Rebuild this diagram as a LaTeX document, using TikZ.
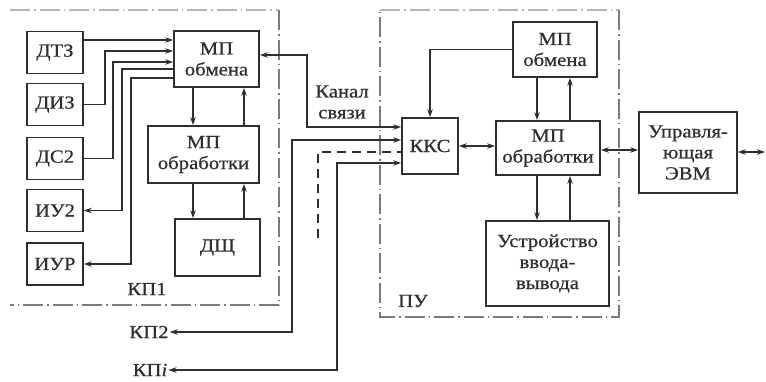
\documentclass[tikz,border=0pt]{standalone}
\usepackage{fontspec}
\setmainfont[FakeStretch=1.12,FakeBold=0.6]{Liberation Serif}
\usetikzlibrary{arrows.meta}
\definecolor{lc}{HTML}{2E2E2E}
\definecolor{bc}{HTML}{7A7A7A}
\begin{document}
\begin{tikzpicture}[x=1pt,y=-1pt,
  >={Stealth[length=8pt,width=5.5pt]},
  every node/.style={font=\fontsize{18.5}{21}\selectfont, text=lc},
  blk/.style={draw=lc, line width=1.7pt, inner sep=1pt, align=center},
  conn/.style={draw=lc, line width=1.6pt},
  bnd/.style={draw=bc, line width=1.1pt, dash pattern=on 20pt off 4pt on 1.5pt off 4pt},
  lbl/.style={inner sep=1pt, align=center}]
\fill[white] (0,0) rectangle (766,381);
\useasboundingbox (0,0) rectangle (766,381);

% boundaries
\draw[bnd, draw=bc!55] (10,10) -- (279,10);
\draw[bnd] (279,10) -- (279,305) -- (10,305);
\draw[bnd, draw=bc!55] (380,10) -- (619,10);
\draw[bnd] (619,10) -- (619,317) -- (380,317) -- (380,10);

% left blocks
\node[blk, minimum width=56pt, minimum height=42pt] (dtz) at (55,52.5) {ДТЗ};
\node[blk, minimum width=56pt, minimum height=42pt] (diz) at (55,104.5) {ДИЗ};
\node[blk, minimum width=56pt, minimum height=42pt] (ds2) at (55,158.5) {ДС2};
\node[blk, minimum width=56pt, minimum height=42pt] (iu2) at (55,210.5) {ИУ2};
\node[blk, minimum width=56pt, minimum height=42pt] (iur) at (55,264) {ИУР};
\node[blk, minimum width=85pt, minimum height=56pt] (mpo1) at (216.5,59) {МП\\обмена};
\node[blk, minimum width=111pt, minimum height=57pt] (mpp1) at (203.5,154.5) {МП\\обработки};
\node[blk, minimum width=85pt, minimum height=57pt] (dsh) at (217.5,247.5) {ДЩ};

% right blocks
\node[blk, minimum width=56pt, minimum height=56pt] (kks) at (430,146) {ККС};
\node[blk, minimum width=84pt, minimum height=55pt] (mpo2) at (555,49.5) {МП\\обмена};
\node[blk, minimum width=104pt, minimum height=54pt] (mpp2) at (548,148) {МП\\обработки};
\node[blk, minimum width=123pt, minimum height=85pt] (uvv) at (547.5,263.5) {Устройство\\ввода-\\вывода};
\node[blk, minimum width=98pt, minimum height=81pt] (evm) at (688,152.5) {Управля-\\ющая\\ЭВМ};

% labels
\node[lbl] (kanal) at (342,102) {Канал\\связи};
\node[lbl] (kp1) at (147,289) {КП1};
\node[lbl] (kp2) at (149,332) {КП2};
\node[lbl] (kpi) at (150,370) {КП\textit{i}};
\node[lbl] (pu) at (413,301) {ПУ};
\coordinate (out) at (765,152);

% left wiring
\draw[conn,->] (dtz.east |- 0,40) -- (mpo1.west |- 0,40);
\draw[conn,->] (diz.east) -| (105,51) -- (mpo1.west |- 0,51);
\draw[conn,->] (ds2.east) -| (113,62) -- (mpo1.west |- 0,62);
\draw[conn,<-] (iu2.east) -| (122,69) -- (mpo1.west |- 0,69);
\draw[conn,<-] (iur.east) -| (131,78) -- (mpo1.west |- 0,78);

% vertical links left
\draw[conn,->] (mpo1.south -| 193,0) -- (mpp1.north -| 193,0);
\draw[conn,<-] (mpo1.south -| 244,0) -- (mpp1.north -| 244,0);
\draw[conn,->] (mpp1.south -| 193,0) -- (dsh.north -| 193,0);
\draw[conn,<-] (mpp1.south -| 244,0) -- (dsh.north -| 244,0);

% vertical links right
\draw[conn,->] (mpo2.south -| 537,0) -- (mpp2.north -| 537,0);
\draw[conn,<-] (mpo2.south -| 570,0) -- (mpp2.north -| 570,0);
\draw[conn,->] (mpp2.south -| 537,0) -- (uvv.north -| 537,0);
\draw[conn,<-] (mpp2.south -| 570,0) -- (uvv.north -| 570,0);

% channels
\draw[conn,<->] (mpo1.east |- 0,55) -- (307,55) |- (kks.west |- 0,127);
\draw[conn,<->] (kp2.east) -| (292,140) -- (kks.west |- 0,140);
\draw[conn,dash pattern=on 9pt off 6pt] (318,238) |- (kks.west |- 0,152);
\draw[conn,<->] (kpi.east) -| (337,163) -- (kks.west |- 0,163);
\draw[conn,->] (mpo2.west) -| (kks.north);

% horizontal links
\draw[conn,<->] (kks.east) -- (kks.east -| mpp2.west);
\draw[conn,<->] (mpp2.east |- 0,150) -- (evm.west |- 0,150);
\draw[conn,<->] (evm.east |- out) -- (out);
\end{tikzpicture}
\end{document}
